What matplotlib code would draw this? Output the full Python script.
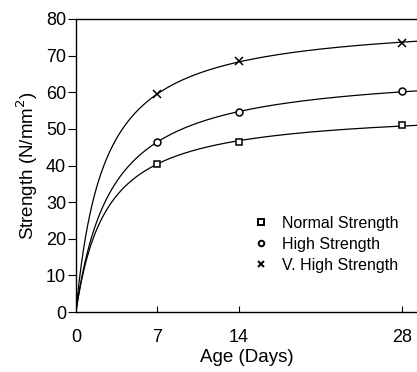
import numpy as np
import matplotlib
matplotlib.use("Agg")
import matplotlib.pyplot as plt

plt.rcParams['font.family'] = ['Liberation Sans', 'DejaVu Sans']

# Test ages (days) and cube strengths (N/mm^2)
age_days = [7, 14, 28]
normal_strength = [40.5, 46.5, 51.0]
high_strength = [46.5, 54.5, 60.3]
vhigh_strength = [59.5, 68.5, 73.5]
series_labels = ["Normal Strength", "High Strength", "V. High Strength"]
x_ticks = [0, 7, 14, 28]
y_ticks = [0, 10, 20, 30, 40, 50, 60, 70, 80]


def hyperbolic_curve(t, f, tt):
    """Fit f = a*t/(b+t) through the origin and evaluate at tt."""
    t = np.asarray(t, float)
    f = np.asarray(f, float)
    slope, inter = np.polyfit(1.0 / t, 1.0 / f, 1)
    a = 1.0 / inter
    b = slope * a
    return a * tt / (b + tt)


fig = plt.figure(figsize=(4.17, 3.72), dpi=100)
ax = fig.add_axes([0.182, 0.161, 0.818, 0.788])

tt = np.linspace(0, 29.3, 600)
markers = ['s', 'o', 'x']
sizes = [5, 5, 6]
for vals, mk, ms in zip([normal_strength, high_strength, vhigh_strength], markers, sizes):
    ax.plot(tt, hyperbolic_curve(age_days, vals, tt), color='black', lw=0.9)
    ax.plot(age_days, vals, linestyle='none', marker=mk, ms=ms,
            mfc='white', mec='black', mew=1.1)

# legend handles (small markers, no line)
handles = []
for mk, ms, lab in zip(markers, [5, 4, 4], series_labels):
    h, = ax.plot([], [], linestyle='none', marker=mk, ms=ms,
                 mfc='white', mec='black', mew=1.4, label=lab)
    handles.append(h)
ax.legend(handles=handles, loc='upper left', bbox_to_anchor=(0.5, 0.35),
          frameon=False, fontsize=11.5, handletextpad=0.85, labelspacing=0.38,
          handlelength=1.0, borderaxespad=0)

ax.set_xlim(0, 29.3)
ax.set_ylim(0, 80)
ax.set_xticks(x_ticks)
ax.set_yticks(y_ticks)
ax.tick_params(axis='x', direction='in', length=4, labelsize=13, pad=12)
ax.tick_params(axis='y', direction='out', length=6, labelsize=13, pad=1)
ax.spines['right'].set_visible(False)
for s in ['left', 'bottom', 'top']:
    ax.spines[s].set_linewidth(1.0)

ax.set_xlabel("Age (Days)", fontsize=13.5, labelpad=2)
ax.set_ylabel("Strength (N/mm$^2$)", fontsize=13.5, labelpad=4)

fig.savefig("out.png", dpi=100)
